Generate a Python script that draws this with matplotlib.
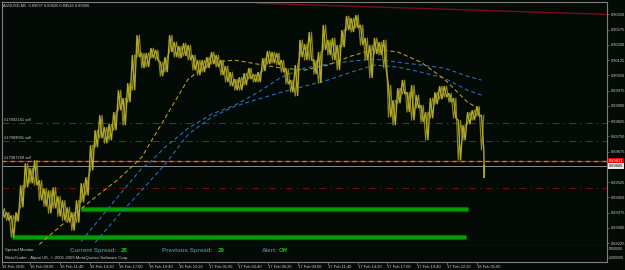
import matplotlib
matplotlib.use("Agg")
import matplotlib.pyplot as plt
import matplotlib.dates as mdates
import matplotlib.transforms as mtransforms
import numpy as np
import pandas as pd

plt.rcParams['font.family'] = ['Liberation Sans', 'DejaVu Sans']
plt.rcParams['lines.scale_dashes'] = False

Symbol = "AUDUSD,M5"
LastBar = [0.89597, 0.89620, 0.89545, 0.89606]   # open high low close
FirstTime = pd.Timestamp("2010-02-16 06:30")
LastTime = pd.Timestamp("2010-02-18 01:40")
Step = pd.Timedelta(minutes=25)

# high / low of every 25 minute slice
Highs = [0.89396, 0.89376, 0.89361, 0.89376, 0.89509, 0.89617, 0.89593, 0.89632, 0.89534, 0.89494,
         0.89484, 0.89499, 0.89455, 0.89435, 0.89401, 0.89376, 0.89435, 0.89519, 0.89548, 0.89706,
         0.89780, 0.89854, 0.89795, 0.89810, 0.89869, 0.89977, 0.89938, 0.90012, 0.90150, 0.90248,
         0.90160, 0.90160, 0.90184, 0.90175, 0.90115, 0.90140, 0.90248, 0.90214, 0.90194, 0.90209,
         0.90199, 0.90150, 0.90125, 0.90125, 0.90140, 0.90165, 0.90150, 0.90125, 0.90096, 0.90066,
         0.90032, 0.90041, 0.90061, 0.90086, 0.90056, 0.90066, 0.90135, 0.90170, 0.90165, 0.90160,
         0.90125, 0.90081, 0.90027, 0.90101, 0.90224, 0.90204, 0.90263, 0.90125, 0.90165, 0.90298,
         0.90224, 0.90234, 0.90199, 0.90273, 0.90342, 0.90332, 0.90347, 0.90298, 0.90234, 0.90199,
         0.90234, 0.90214, 0.90224, 0.90002, 0.89928, 0.89987, 0.90027, 0.89967, 0.90002, 0.89953,
         0.89903, 0.89869, 0.89938, 0.89967, 0.89997, 0.89997, 0.89962, 0.89938, 0.89829, 0.89805,
         0.89869, 0.89879, 0.89898, 0.89854]
Lows = [0.89351, 0.89336, 0.89253, 0.89331, 0.89401, 0.89499, 0.89519, 0.89509, 0.89435, 0.89405,
        0.89371, 0.89396, 0.89356, 0.89336, 0.89326, 0.89287, 0.89326, 0.89425, 0.89460, 0.89583,
        0.89696, 0.89741, 0.89716, 0.89731, 0.89780, 0.89879, 0.89805, 0.89918, 0.89977, 0.90140,
        0.90086, 0.90091, 0.90135, 0.90125, 0.90046, 0.90066, 0.90165, 0.90140, 0.90135, 0.90145,
        0.90125, 0.90076, 0.90051, 0.90066, 0.90086, 0.90105, 0.90091, 0.90051, 0.90017, 0.89997,
        0.89977, 0.89977, 0.90002, 0.90032, 0.90017, 0.90017, 0.90071, 0.90105, 0.90110, 0.90101,
        0.90066, 0.90007, 0.89967, 0.89948, 0.90140, 0.90125, 0.90125, 0.90056, 0.90012, 0.90175,
        0.90150, 0.90125, 0.90076, 0.90189, 0.90273, 0.90263, 0.90283, 0.90199, 0.90125, 0.90037,
        0.90155, 0.90150, 0.90086, 0.89844, 0.89805, 0.89913, 0.89958, 0.89869, 0.89829, 0.89889,
        0.89820, 0.89731, 0.89839, 0.89908, 0.89933, 0.89943, 0.89918, 0.89839, 0.89632, 0.89731,
        0.89810, 0.89829, 0.89849, 0.89682]

# moving averages (slice index, price)
MaYellowIdx = [8, 10, 15, 20, 25, 30, 35, 40, 45, 50, 55, 60, 65, 70, 75, 80, 85, 90, 95, 100, 103]
MaYellow = [0.89218, 0.89258, 0.89356, 0.89450, 0.89539, 0.89647, 0.89839, 0.90032, 0.90115, 0.90125,
            0.90105, 0.90086, 0.90076, 0.90101, 0.90145, 0.90179, 0.90165, 0.90115, 0.90032, 0.89918, 0.89879]
MaBlue1Idx = [17, 20, 25, 30, 32, 35, 40, 45, 50, 55, 60, 65, 70, 75, 80, 85, 90, 95, 100, 103]
MaBlue1 = [0.89233, 0.89317, 0.89455, 0.89593, 0.89627, 0.89696, 0.89790, 0.89859, 0.89903, 0.89967,
           0.90041, 0.90086, 0.90105, 0.90120, 0.90130, 0.90115, 0.90101, 0.90086, 0.90046, 0.90027]
MaBlue2Idx = [20, 25, 30, 35, 40, 45, 50, 55, 60, 65, 70, 75, 80, 85, 90, 95, 100, 103]
MaBlue2 = [0.89228, 0.89361, 0.89484, 0.89612, 0.89760, 0.89844, 0.89898, 0.89933, 0.89967, 0.89997,
           0.90027, 0.90066, 0.90101, 0.90091, 0.90066, 0.90037, 0.89977, 0.89953]

# order lines
OrderNames = ["#17092161 sell", "#17089061 sell", "#17087289 sell"]
OrderPrices = [0.89818, 0.89726, 0.89631]
StopPrice = 0.89496

# green zones
ZonePrices = [0.89394, 0.89255]
ZoneStart = ["2010-02-16 13:35", "2010-02-16 07:25"]
ZoneEnd = ["2010-02-18 00:10", "2010-02-18 00:00"]

# trend line
TrendTimes = ["2010-02-17 05:20", "2010-02-18 12:45"]
TrendPrices = [0.90405, 0.90350]

CurrentSpread = 28
PreviousSpread = 29
AlertState = "Off"

BG = '#040a05'
GRID = '#808080'
TXT = '#c8c8c8'
FS = 2.9

W, H = 625.0, 270.0
fig = plt.figure(figsize=(6.25, 2.7), dpi=100, facecolor=BG)
ax = fig.add_axes([2 / W, 1 - 245.5 / H, 605 / W, 243.5 / H], facecolor=BG)
sub = fig.add_axes([2 / W, 1 - 261.5 / H, 605 / W, 15.5 / H], facecolor=BG, sharex=ax)


def tnum(t):
    return mdates.date2num(pd.to_datetime(t))


t = FirstTime + Step * np.arange(len(Highs))
half = Step / 2
# price line: zigzag through each slice's high and low, both ways round
xs, ys, xs2, ys2 = [], [], [], []
for i in range(len(Highs)):
    xs += [t[i], t[i] + half]
    ys += [Highs[i], Lows[i]]
    xs2 += [t[i], t[i] + half]
    ys2 += [Lows[i], Highs[i]]
xs += [LastTime, LastTime]
ys += [LastBar[2], LastBar[3]]

x0 = tnum(FirstTime)
x1 = x0 + 3249 / 1440.0
ax.set_xlim(x0, x1)
ax.set_ylim(0.89213, 0.90411)

# horizontal objects
for p in OrderPrices[:2]:
    ax.axhline(p, color='#0c5a10', lw=0.8, dashes=(5, 3, 1, 3))
ax.axhline(OrderPrices[2], color='#b81010', lw=0.9)
ax.axhline(OrderPrices[2], color='#e07a20', lw=0.9, dashes=(3, 3))
ax.axhline(LastBar[3], color='#8c8c8c', lw=0.7)
ax.axhline(StopPrice, color='#6e0e10', lw=0.8, dashes=(5, 3, 1, 3))

for p, s, e in zip(ZonePrices, ZoneStart, ZoneEnd):
    ax.hlines(p, tnum(s), tnum(e), color='#006a00', lw=3.8)
    ax.hlines(p, tnum(s), tnum(e), color='#00a400', lw=2.0)

ax.plot(tnum(TrendTimes), TrendPrices, color='#7a0a22', lw=1.0)

ax.plot(tnum(FirstTime + Step * np.array(MaBlue1Idx)), MaBlue1, color='#2a6cb4', lw=0.8, dashes=(3, 2))
ax.plot(tnum(FirstTime + Step * np.array(MaBlue2Idx)), MaBlue2, color='#2a6cb4', lw=0.8, dashes=(3, 2))
ax.plot(tnum(FirstTime + Step * np.array(MaYellowIdx)), MaYellow, color='#b89a28', lw=0.8, dashes=(3, 2))

ax.plot(tnum(xs2), ys2, color='#8e8822', lw=0.8)
ax.plot(tnum(xs), ys, color='#b0a82c', lw=1.0, solid_joinstyle='miter')

# order labels
tr = mtransforms.blended_transform_factory(ax.transAxes, ax.transData)
for name, p in zip(OrderNames, OrderPrices):
    ax.text(0.004, p + 0.00004, name, transform=tr, fontsize=FS, color=TXT, va='bottom', ha='left')

fig.text(3 / W, 1 - 6 / H, "%s  %.5f %.5f %.5f %.5f" % (Symbol, *LastBar), fontsize=FS, color=TXT, va='center')

# price scale
yt = [round(0.90350 - k * 0.00075, 5) for k in range(16)]
yt = [v for v in yt if abs(v - 0.89600) > 1e-6]
ax.yaxis.tick_right()
ax.set_yticks(yt)
ax.set_yticklabels(["%.5f" % v for v in yt])
ax.tick_params(axis='y', direction='out', length=1.5, width=0.5, colors=GRID, labelcolor=TXT, labelsize=FS, pad=1)
ax.tick_params(axis='x', length=0, labelbottom=False)

ax.text(1.003, OrderPrices[2], "%.5f" % OrderPrices[2], transform=tr, fontsize=FS, color='white', va='center',
        ha='left', bbox=dict(boxstyle='square,pad=0.25', fc='#e00000', ec='none'))
ax.text(1.003, LastBar[3], "%.5f" % LastBar[3], transform=tr, fontsize=FS, color='black', va='center',
        ha='left', bbox=dict(boxstyle='square,pad=0.25', fc='#e8e8e8', ec='none'))

for a in (ax, sub):
    for sp in a.spines.values():
        sp.set_color(GRID)
        sp.set_linewidth(0.8)
sub.spines['top'].set_visible(False)

# indicator window
sub.set_ylim(-9.44e6, 8.33e6)
sub.yaxis.tick_right()
sub.set_yticks([5e6, -5e6])
sub.set_yticklabels(["5000000", "-5000000"])
sub.tick_params(axis='y', direction='out', length=1, width=0.5, colors=GRID, labelcolor=TXT, labelsize=2.5, pad=0.5)

ticks = pd.date_range("2010-02-16 09:00", "2010-02-18 01:00", freq="160min")
sub.set_xticks([x0] + list(tnum(ticks)))
sub.set_xticklabels(["16 Feb 2010"] + [d.strftime("%d %b %H:%M") for d in ticks])
sub.tick_params(axis='x', direction='out', length=2, width=0.5, colors=GRID, labelcolor=TXT, labelsize=FS, pad=0.5)
plt.setp(sub.get_xticklabels(), ha='left')

sub.text(3 / 605, 0.74, "Spread Monitor", transform=sub.transAxes, fontsize=3.1, color=TXT, va='center')
sub.text(3 / 605, 0.22, "MetaTrader - Alpari UK, \u00a9 2001-2009 MetaQuotes Software Corp.", transform=sub.transAxes,
         fontsize=3.1, color=TXT, va='center')
lab = '#4a7a8c'
val = '#20c020'
for x, s, c in [(70, "Current Spread:", lab), (121, str(CurrentSpread), val),
                (162, "Previous Spread:", lab), (218, str(PreviousSpread), val),
                (262, "Alert:", lab), (279, AlertState, val)]:
    sub.text((x - 2) / 605, 0.7, s, transform=sub.transAxes, fontsize=4.4, color=c, va='center',
             fontweight='bold')

plt.savefig("out.png", dpi=100, facecolor=BG)
